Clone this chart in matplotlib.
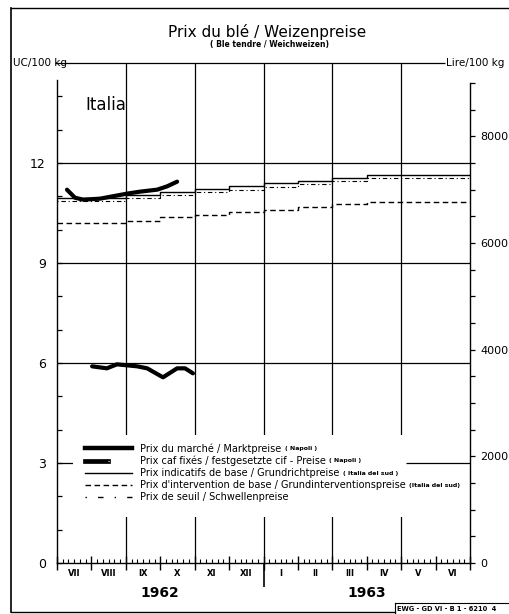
import matplotlib
matplotlib.use('Agg')
import numpy as np
import matplotlib.pyplot as plt
from matplotlib.lines import Line2D
from matplotlib.patches import Rectangle
from matplotlib.legend_handler import HandlerTuple

# axe x : mois depuis le 1er juillet 1962
mois = ['VII', 'VIII', 'IX', 'X', 'XI', 'XII', 'I', 'II', 'III', 'IV', 'V', 'VI']
annees = ['1962', '1963']

# prix du marché (Napoli), UC/100 kg
marche_t = [0.29, 0.52, 0.76, 1.25, 2.03, 2.41, 2.91, 3.2, 3.49]
marche_v = [11.20, 10.96, 10.90, 10.93, 11.08, 11.14, 11.20, 11.30, 11.44]
# prix caf fixés (Napoli)
caf_t = [1.02, 1.45, 1.74, 2.33, 2.62, 3.08, 3.49, 3.72, 3.95]
caf_v = [5.90, 5.84, 5.96, 5.90, 5.84, 5.57, 5.84, 5.84, 5.69]
# prix mensuels (valables du debut du mois)
indicatif = [10.95, 10.95, 11.05, 11.13, 11.22, 11.30, 11.39, 11.47, 11.55, 11.65, 11.65, 11.65]
intervention = [10.19, 10.19, 10.27, 10.37, 10.45, 10.52, 10.60, 10.69, 10.77, 10.83, 10.83, 10.83]
seuil = [10.87, 10.87, 10.96, 11.04, 11.12, 11.20, 11.29, 11.37, 11.45, 11.55, 11.55, 11.55]

labels = ["Prix du marché / Marktpreise",
          "Prix caf fixés / festgesetzte cif - Preise",
          "Prix indicatifs de base / Grundrichtpreise",
          "Prix d'intervention de base / Grundinterventionspreise",
          "Prix de seuil / Schwellenpreise"]
petits = ["( Napoli )", "( Napoli )", "( Italia del sud )", "(Italia del sud)", ""]

LIRE = 625

W, H = 510, 614
fig = plt.figure(figsize=(W / 100, H / 100), dpi=100)
ax = fig.add_axes([57 / W, 1 - 563 / H, 413 / W, 500 / H])
ax.set_xlim(0, 12)
ax.set_ylim(0, 15)

# grille
for v in [3, 6, 9, 12]:
    ax.axhline(v, color='k', lw=0.9, zorder=1)
for m in [2, 4, 6, 8, 10]:
    ax.axvline(m, color='k', lw=0.9, zorder=1)
ax.hlines(15, -0.06, 11.28, color='k', lw=0.9, clip_on=False)
ax.vlines(6, -0.72, 0, color='k', lw=1.2, clip_on=False)

# courbes
mx = np.arange(13)
ax.step(mx, indicatif + [indicatif[-1]], where='post', color='k', lw=1.0, zorder=3)
ax.step(mx, seuil + [seuil[-1]], where='post', color='k', lw=0.8, ls=(0, (1, 2.5, 4, 2.5)), zorder=3)
ax.step(mx, intervention + [intervention[-1]], where='post', color='k', lw=1.0, ls=(0, (4, 2.5)), zorder=3)
ax.plot(marche_t, marche_v, color='k', lw=3.0, solid_capstyle='round', zorder=4)
ax.plot(caf_t, caf_v, color='k', lw=3.0, solid_capstyle='round', zorder=4)

# fond blanc sous la legende
ax.add_patch(Rectangle((0.47, 1.38), 11.53, 2.45, facecolor='white', edgecolor='none', zorder=1.5))
ax.hlines(3, 10.15, 12, color='k', lw=0.9, zorder=1.6)

# axes
for s in ['top', 'right']:
    ax.spines[s].set_visible(False)
ax.spines['left'].set_bounds(0, 14.5)
ax.spines['left'].set_linewidth(1.0)
ax.spines['bottom'].set_linewidth(1.0)
ax.set_yticks([0, 3, 6, 9, 12])
ax.set_yticks(np.arange(0, 15, 1), minor=True)
ax.tick_params(axis='y', which='both', direction='in', length=3.6, width=0.9, labelsize=9, pad=8)
ax.set_xticks(np.arange(0, 13, 1))
ax.set_xticks(np.arange(0, 12.01, 1 / 6), minor=True)
ax.set_xticklabels([])
ax.tick_params(axis='x', which='major', direction='inout', length=10, width=1.0)
ax.tick_params(axis='x', which='minor', direction='in', length=3, width=0.8)

ax2 = ax.twinx()
ax2.set_ylim(0, 15 * LIRE)
for s in ['top', 'left', 'bottom']:
    ax2.spines[s].set_visible(False)
ax2.spines['right'].set_bounds(0, 9000)
ax2.spines['right'].set_linewidth(1.0)
ax2.set_yticks([0, 2000, 4000, 6000, 8000])
ax2.set_yticks(np.arange(0, 9001, 500), minor=True)
ax2.tick_params(axis='y', which='both', direction='out', length=3.6, width=0.9, labelsize=8, pad=3.6)

# mois et annees
for i, m in enumerate(mois):
    ax.text(i + 0.5, -0.33, m, ha='center', va='center', fontsize=6, fontweight='bold')
for i, a in enumerate(annees):
    ax.text(3 + 6 * i, -0.9, a, ha='center', va='center', fontsize=10, fontweight='bold')

ax.text(0.81, 13.74, 'Italia', ha='left', va='center', fontsize=12)

# legende
handles = [Line2D([], [], color='k', lw=3.2),
           (Line2D([], [], color='k', lw=3.4), Line2D([], [], color='w', lw=0.8, ls=(0, (1, 1.5)))),
           Line2D([], [], color='k', lw=1.0),
           Line2D([], [], color='k', lw=1.0, ls=(0, (4, 2.5))),
           Line2D([], [], color='k', lw=1.0, ls=(0, (1, 8, 4, 8)))]
leg = ax.legend(handles, labels, loc='upper left', bbox_to_anchor=(0.068, 0.2395),
                fontsize=7, handlelength=4.8, handletextpad=0.8, labelspacing=0.2,
                borderpad=0, borderaxespad=0, frameon=False,
                handler_map={tuple: HandlerTuple(ndivide=None, pad=0)})
leg.set_zorder(6)

# textes du cadre
fig.text(267 / W, 1 - 32 / H, 'Prix du blé / Weizenpreise', ha='center', va='center', fontsize=11)
fig.text(269 / W, 1 - 44 / H, '( Ble tendre / Weichweizen)', ha='center', va='center',
         fontsize=5.5, fontweight='bold')
fig.text(13 / W, 1 - 63 / H, 'UC/100 kg', ha='left', va='center', fontsize=7.5)
fig.text(446 / W, 1 - 63 / H, 'Lire/100 kg', ha='left', va='center', fontsize=7.5)

fig.add_artist(Line2D([11 / W, 11 / W], [1 - 8 / H, 1 - 612 / H], color='k', lw=1.2))
fig.add_artist(Line2D([11 / W, 509 / W], [1 - 8 / H, 1 - 8 / H], color='k', lw=1.0))
fig.add_artist(Line2D([11 / W, 395 / W], [1 - 612 / H, 1 - 612 / H], color='k', lw=1.0))
fig.add_artist(Line2D([395 / W, 395 / W], [1 - 603 / H, 0], color='k', lw=0.8))
fig.add_artist(Line2D([395 / W, 1], [1 - 603 / H, 1 - 603 / H], color='k', lw=0.8))
fig.text(397 / W, 1 - 609 / H, 'EWG - GD VI - B 1 - 6210  4', ha='left', va='center',
         fontsize=4.8, fontweight='bold')

# petits textes entre parentheses apres la legende
fig.canvas.draw()
renderer = fig.canvas.get_renderer()
for t, p in zip(leg.get_texts(), petits):
    if p:
        bb = t.get_window_extent(renderer)
        fig.text((bb.x1 + 4) / W, (bb.y0 + bb.y1) / 2 / H, p, ha='left', va='center',
                 fontsize=4.5, fontweight='bold')

fig.savefig('out.png', dpi=100)
